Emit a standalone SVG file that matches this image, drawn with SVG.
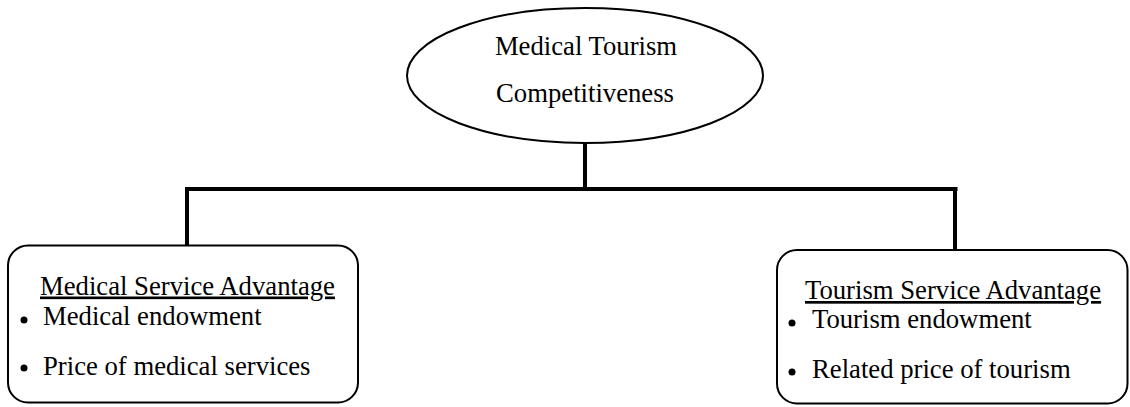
<svg xmlns="http://www.w3.org/2000/svg" width="1130" height="407" viewBox="0 0 1130 407">
  <style>
    .shape { fill: #ffffff; stroke: #000000; stroke-width: 2; }
    .label { font-family: "Liberation Serif", "Times New Roman", serif; font-size: 26.7px; fill: #000000; }
    .mid { text-anchor: middle; }
    .head { text-decoration: underline; }
    .link { stroke: #000000; stroke-width: 4; fill: none; stroke-linecap: butt; }
    .dot { fill: #000000; }
  </style>

  <rect width="1130" height="407" fill="#ffffff"/>

  <!-- tree connectors -->
  <g id="connectors">
    <line class="link" x1="585" y1="143" x2="585" y2="189"/>
    <line class="link" x1="185" y1="189" x2="957.5" y2="189"/>
    <line class="link" x1="187" y1="187" x2="187" y2="246"/>
    <line class="link" x1="955" y1="187" x2="955" y2="250"/>
  </g>

  <!-- root -->
  <g id="node-competitiveness">
    <ellipse class="shape" cx="585" cy="75.5" rx="178" ry="67.5"/>
    <text class="label mid" x="586" y="55">Medical Tourism</text>
    <text class="label mid" x="585" y="102">Competitiveness</text>
  </g>

  <!-- left branch -->
  <g id="node-medical-service">
    <rect class="shape" x="8" y="245.5" width="350" height="157" rx="20" ry="20"/>
    <text class="label head" x="40" y="294.5">Medical Service Advantage</text>
    <circle class="dot" cx="24" cy="320" r="3.5"/>
    <text class="label" x="43" y="325">Medical endowment</text>
    <circle class="dot" cx="24" cy="368" r="3.5"/>
    <text class="label" x="43" y="375">Price of medical services</text>
  </g>

  <!-- right branch -->
  <g id="node-tourism-service">
    <rect class="shape" x="777" y="250" width="350.5" height="153.5" rx="20" ry="20"/>
    <text class="label head" x="805" y="299">Tourism Service Advantage</text>
    <circle class="dot" cx="792" cy="323" r="3.5"/>
    <text class="label" x="812" y="328">Tourism endowment</text>
    <circle class="dot" cx="792" cy="372" r="3.5"/>
    <text class="label" x="812" y="378">Related price of tourism</text>
  </g>
</svg>
